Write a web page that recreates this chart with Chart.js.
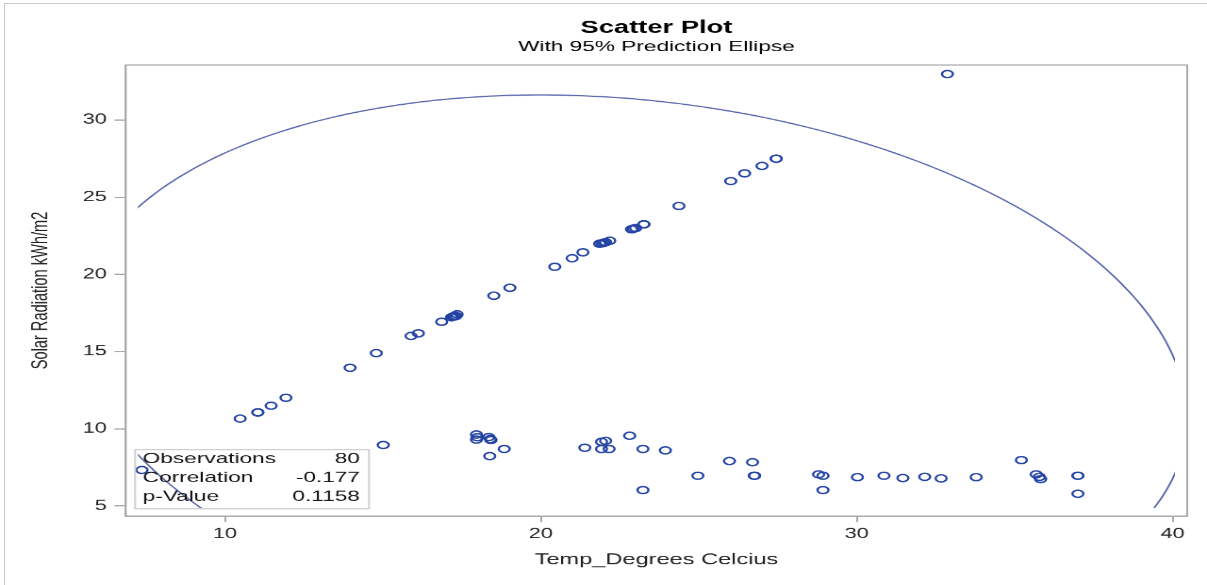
<!DOCTYPE html>
<html lang="en">
<head>
<meta charset="UTF-8">
<title>Scatter Plot</title>
<script src="https://cdn.jsdelivr.net/npm/chart.js"></script>
<style>
    html, body { margin: 0; padding: 0; background: #fff; overflow: hidden; }
    /* the original graph is a 640x480 SAS image stretched to the page */
    #stage {
        position: absolute;
        left: 0;
        top: 0;
        width: 640px;
        height: 480px;
        transform-origin: 0 0;
        transform: scale(1.88594, 1.21875);
    }
    #frame {
        position: absolute;
        left: 4px;
        top: 3px;
        right: -10px;
        bottom: -10px;
        border-left: 1px solid #c8c8c8;
        border-top: 1px solid #c8c8c8;
        pointer-events: none;
    }
</style>
</head>
<body>
<div id="stage"><canvas id="scatter" width="640" height="480"></canvas></div>
<div id="frame"></div>
<script>
// 80 observations; the last 15 sit on top of visible markers
var temps = [10.48, 11.04, 11.46, 11.93, 13.96, 14.79, 15.89, 16.12, 16.86, 17.17,
             17.28, 17.35, 18.51, 19.02, 20.44, 20.99, 21.33, 21.86, 21.99, 22.18,
             22.87, 23.00, 23.26, 24.37, 26.01, 26.45, 27.00, 27.45, 32.87,
             7.37, 15.01, 17.96, 17.96, 18.35, 18.42, 18.84, 18.38, 21.39, 21.92,
             22.05, 21.92, 22.16, 22.81, 23.23, 23.23, 23.94, 24.97, 25.97, 26.70,
             26.76, 28.79, 28.93, 28.93, 30.02, 30.86, 31.46, 32.15, 32.67, 33.78,
             35.21, 35.68, 35.78, 35.82, 37.00, 37.00,
             17.24, 17.31, 17.20, 21.93, 27.45, 22.05, 22.93, 11.04, 23.26,
             26.76, 26.76, 17.99, 18.40, 37.00, 17.28];
var radiation = [10.66, 11.06, 11.49, 12.01, 13.95, 14.90, 16.01, 16.18, 16.93, 17.22,
                 17.32, 17.41, 18.62, 19.13, 20.49, 21.04, 21.43, 21.98, 22.05, 22.18,
                 22.92, 23.00, 23.24, 24.43, 26.04, 26.54, 27.02, 27.49, 32.97,
                 7.33, 8.95, 9.63, 9.30, 9.46, 9.27, 8.69, 8.23, 8.77, 9.16,
                 9.22, 8.69, 8.69, 9.55, 8.69, 6.03, 8.60, 6.96, 7.91, 7.83,
                 6.96, 7.05, 6.96, 6.03, 6.87, 6.96, 6.81, 6.89, 6.79, 6.87,
                 7.97, 7.05, 6.89, 6.74, 6.96, 5.79,
                 17.27, 17.30, 17.25, 22.01, 27.49, 22.08, 22.96, 11.06, 23.24,
                 6.96, 6.96, 9.45, 9.33, 6.96, 17.32];
var xTicks = [10, 20, 30, 40];
var yTicks = [5, 10, 15, 20, 25, 30];
var statLabels = ['Observations', 'Correlation', 'p-Value'];
var statValues = ['80', '-0.177', '0.1158'];

var FONT = "'Liberation Sans', Arial, sans-serif";
Chart.defaults.font.family = FONT;

// 95% prediction ellipse from the sample mean and covariance
function predictionEllipse(xs, ys, level) {
    var n = xs.length, mx = 0, my = 0, sxx = 0, syy = 0, sxy = 0;
    for (var i = 0; i < n; i++) { mx += xs[i]; my += ys[i]; }
    mx /= n; my /= n;
    for (var i = 0; i < n; i++) {
        sxx += (xs[i] - mx) * (xs[i] - mx);
        syy += (ys[i] - my) * (ys[i] - my);
        sxy += (xs[i] - mx) * (ys[i] - my);
    }
    sxx /= n - 1; syy /= n - 1; sxy /= n - 1;
    var d2 = n - 2;
    var f = d2 / 2 * (Math.pow(1 - level, -2 / d2) - 1);
    var c = Math.sqrt(2 * (n - 1) * (n + 1) / (n * (n - 2)) * f);
    var a = Math.sqrt(sxx), b = sxy / a, d = Math.sqrt(syy - b * b);
    var pts = [];
    for (var k = 0; k <= 360; k++) {
        var t = k * Math.PI / 180;
        pts.push({x: mx + c * a * Math.cos(t), y: my + c * (b * Math.cos(t) + d * Math.sin(t))});
    }
    return pts;
}

var points = temps.map(function(t, i) { return {x: t, y: radiation[i]}; });
var ellipse = predictionEllipse(temps, radiation, 0.95);

var plotFrame = {
    id: 'plotFrame',
    afterDatasetsDraw: function(chart) {
        var ctx = chart.ctx, a = chart.chartArea;
        ctx.save();
        ctx.strokeStyle = '#a9a9a9';
        ctx.lineWidth = 1;
        ctx.strokeRect(a.left, a.top, a.right - a.left, a.bottom - a.top);

        // statistics inset
        var bw = 124, bh = 48.4;
        var bx = a.left + 5, by = a.bottom - 6 - bh;
        ctx.strokeStyle = '#d0d0d0';
        ctx.strokeRect(bx, by, bw, bh);
        ctx.font = '12px ' + FONT;
        ctx.fillStyle = '#111';
        ctx.textBaseline = 'middle';
        for (var i = 0; i < statLabels.length; i++) {
            var ty = by + 7.6 + i * 15.6;
            ctx.textAlign = 'left';
            ctx.fillText(statLabels[i], bx + 4, ty);
            ctx.textAlign = 'right';
            ctx.fillText(statValues[i], bx + bw - 4.8, ty);
        }
        ctx.restore();
    }
};

new Chart(document.getElementById('scatter'), {
    type: 'scatter',
    data: {
        datasets: [{
            label: 'Prediction Ellipse',
            data: ellipse,
            showLine: true,
            pointRadius: 0,
            borderColor: '#5866ad',
            borderWidth: 1,
            // the curve stops at the inner data area, not at the frame
            clip: { left: -6.5, right: -6.5, top: -6.5, bottom: -6.5 },
            order: 2
        }, {
            label: 'Observations',
            data: points,
            pointRadius: 2.9,
            pointHoverRadius: 2.9,
            pointBorderWidth: 1.2,
            borderColor: '#2444a4',
            backgroundColor: 'rgba(0,0,0,0)',
            order: 1
        }]
    },
    plugins: [plotFrame],
    options: {
        responsive: false,
        animation: false,
        devicePixelRatio: 2,
        layout: { padding: { left: 0, right: 10.5, top: 0, bottom: 0 } },
        plugins: {
            legend: { display: false },
            tooltip: { enabled: false },
            title: {
                display: true,
                text: 'Scatter Plot',
                fullSize: false,
                color: '#000',
                font: { size: 14.5, weight: 'bold' },
                padding: { top: 14.3, bottom: 0 }
            },
            subtitle: {
                display: true,
                text: 'With 95% Prediction Ellipse',
                fullSize: false,
                color: '#000',
                font: { size: 12 },
                padding: { top: 0, bottom: 7.2 }
            }
        },
        scales: {
            x: {
                type: 'linear',
                min: 6.857,
                max: 40.46,
                afterBuildTicks: function(s) { s.ticks = xTicks.map(function(v) { return {value: v}; }); },
                afterFit: function(s) { s.height = 56.6; },
                grid: { display: true, drawOnChartArea: false, drawTicks: true, tickLength: 5, color: '#a9a9a9' },
                border: { display: true, color: '#a9a9a9' },
                ticks: { color: '#222', font: { size: 11.5 }, padding: 3, maxRotation: 0 },
                title: {
                    display: true,
                    text: 'Temp_Degrees Celcius',
                    color: '#222',
                    font: { size: 12.5 },
                    padding: { top: 0, bottom: 13 }
                }
            },
            y: {
                type: 'linear',
                min: 4.35,
                max: 33.56,
                afterBuildTicks: function(s) { s.ticks = yTicks.map(function(v) { return {value: v}; }); },
                afterFit: function(s) { s.width = 66.65; },
                grid: { display: true, drawOnChartArea: false, drawTicks: true, tickLength: 6, color: '#a9a9a9' },
                border: { display: true, color: '#a9a9a9' },
                ticks: { color: '#222', font: { size: 11.5 }, padding: 4 },
                title: {
                    display: true,
                    text: 'Solar Radiation kWh/m2',
                    color: '#222',
                    font: { size: 12 },
                    padding: { top: 14.6, bottom: 0 }
                }
            }
        }
    }
});
</script>
</body>
</html>
